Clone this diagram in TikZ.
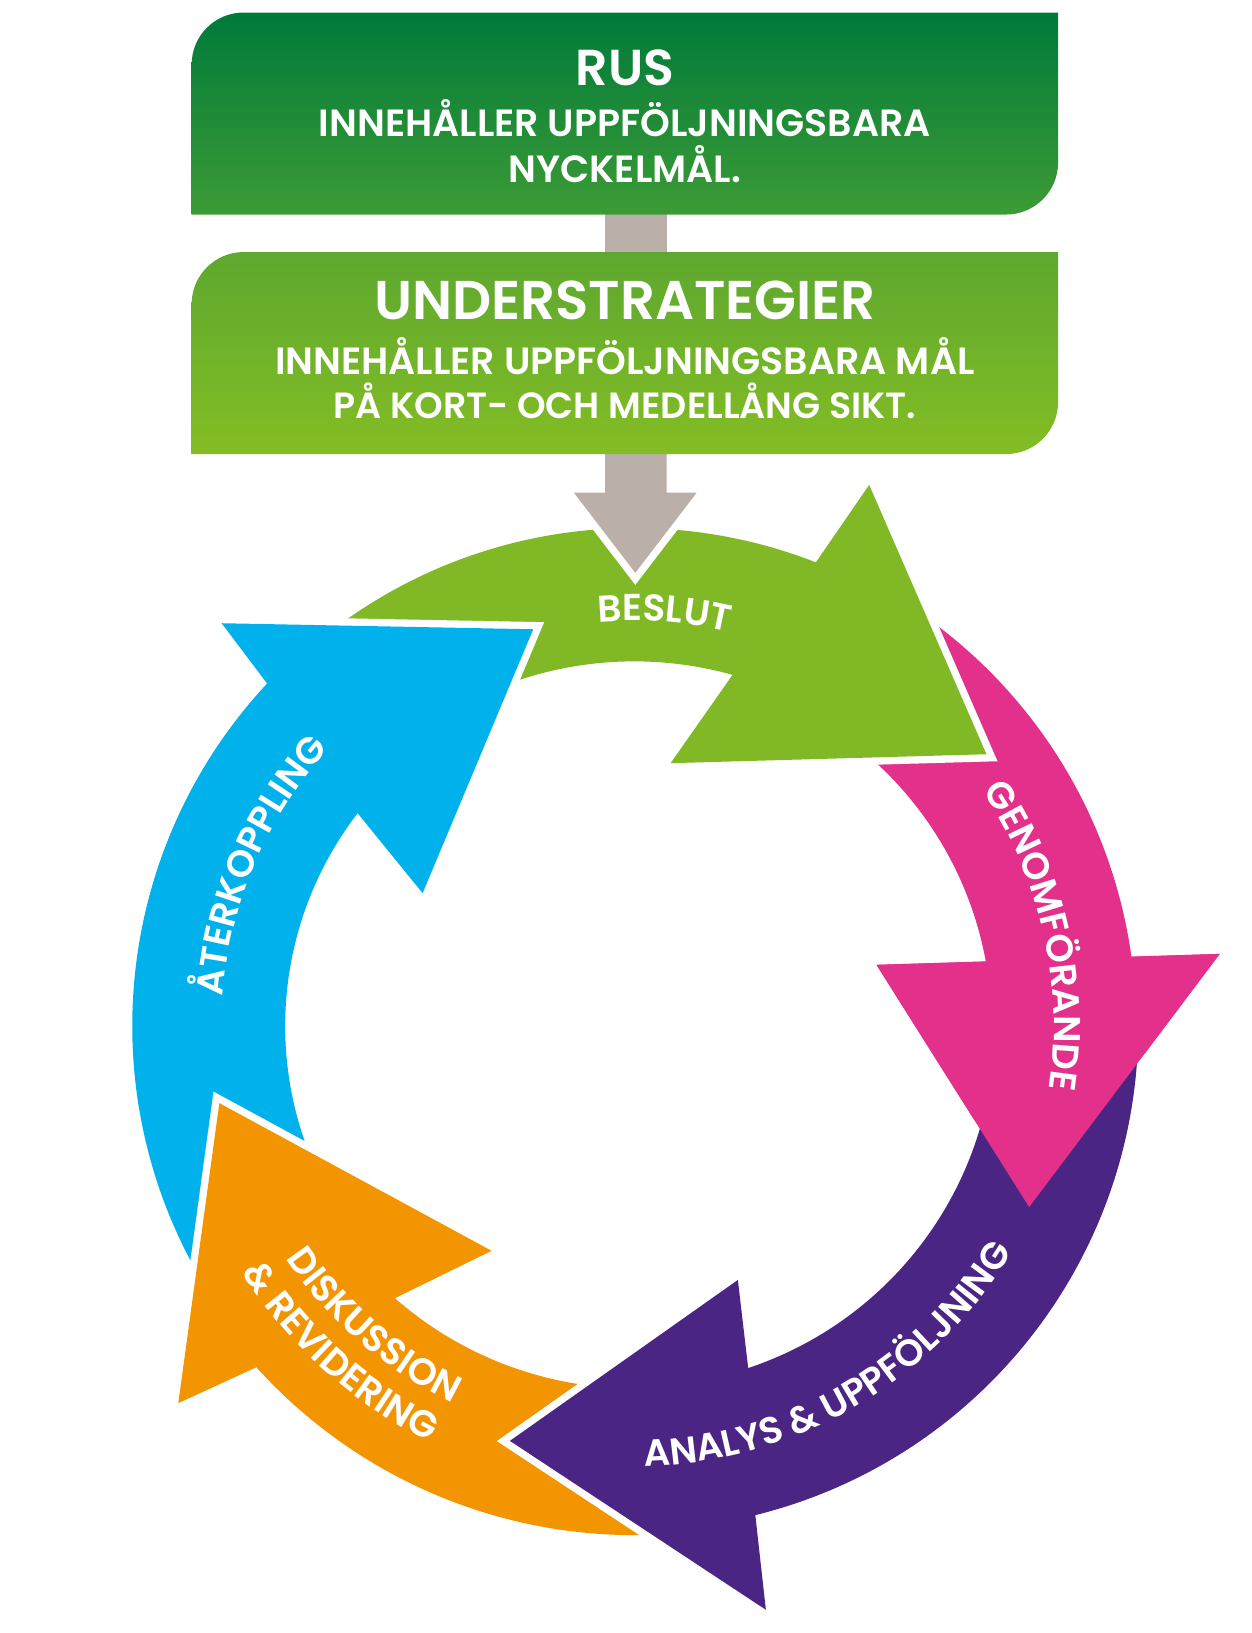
\documentclass[tikz,border=0pt]{standalone}
\usepackage{fontspec}
\setmainfont{Poppins}[BoldFont={* SemiBold}]
\usetikzlibrary{calc,decorations.text}

\definecolor{rusdark}{RGB}{0,122,58}
\definecolor{ruslight}{RGB}{60,155,53}
\definecolor{subdark}{RGB}{93,168,47}
\definecolor{sublight}{RGB}{132,189,36}
\definecolor{beslutgreen}{RGB}{128,185,37}
\definecolor{connectorgray}{RGB}{186,175,169}
\definecolor{feedbackblue}{RGB}{0,177,235}
\definecolor{executionpink}{RGB}{227,49,139}
\definecolor{analysispurple}{RGB}{74,37,131}
\definecolor{revisionorange}{RGB}{243,149,0}

\newcommand\labelfont{\fontsize{10.2}{12}\selectfont\bfseries\color{white}}
% text on an arc round the ring centre: start, end, radius, text
\newcommand\cyclelabel[4]{%
  \path[decorate, decoration={text along path, text align=center, text={|\labelfont|#4}}]
    ($(ring)+(#1:#3)$) arc[start angle=#1, end angle=#2, radius=#3];}

\begin{document}
\begin{tikzpicture}[
    x=0.01cm, y=0.01cm,
    bordered/.style={fill=#1, preaction={draw=white, line width=4pt, line join=miter}},
    headtitle/.style={text=white, font=\fontsize{13.8}{16}\selectfont\bfseries, inner sep=0pt, anchor=base},
    headtext/.style={text=white, font=\fontsize{10.35}{12}\selectfont\bfseries, inner sep=0pt, anchor=base}
]
\useasboundingbox (0,0) rectangle (1202,-1568);
\coordinate (ring) at (609,-985);

% cycle arrows
\fill[executionpink] ($(ring)+(56:482)$) arc[start angle=56, end angle=7.93, radius=482]
  -- (1171.2,-915.9) -- (988.2,-1159) -- (841.6,-926.4) -- (946.6,-923.3)
  arc[start angle=10.36, end angle=52, radius=343] -- cycle;
\path[bordered=beslutgreen] ($(ring)+(127:478)$) arc[start angle=127, end angle=68.6, radius=478]
  -- (834.6,-465.6) -- (947.2,-724.2) -- (643.9,-732.8) -- (703.4,-648)
  arc[start angle=74.35, end angle=113, radius=350] -- cycle;
\path[bordered=feedbackblue] ($(ring)+(210:482)$) arc[start angle=210, end angle=137, radius=482]
  -- (212.8,-598.4) -- (512,-604.2) -- (405.8,-857.6) -- (343.4,-780.8)
  arc[start angle=142.4, end angle=203, radius=335] -- cycle;
\path[bordered=revisionorange] ($(ring)+(276:489)$) arc[start angle=276, end angle=222.1, radius=489]
  -- (171.2,-1347.3) -- (210.6,-1059.2) -- (472,-1201) -- (379.2,-1246.5)
  arc[start angle=228.7, end angle=266, radius=348] -- cycle;
\path[bordered=analysispurple] ($(ring)+(-3:484)$) arc[start angle=-3, end angle=-76.1, radius=484]
  -- (735.4,-1545.7) -- (489.6,-1383.5) -- (708.5,-1229) -- (718.4,-1313.6)
  arc[start angle=-71.6, end angle=-12, radius=346] -- cycle;
\fill[executionpink] (1171.2,-915.9) -- (988.2,-1159) -- (841.6,-926.4) -- cycle;

% gray connectors
\fill[connectorgray] (581,-200) rectangle (640,-250);
\path[bordered=connectorgray] (581,-430) -- (581,-473) -- (551,-473) -- (610,-550)
  -- (669,-473) -- (640,-473) -- (640,-430) -- cycle;

% boxes
\path[top color=rusdark, bottom color=ruslight] (184,-206) -- (184,-62)
  arc[start angle=180, end angle=90, radius=50] -- (1016,-12) -- (1016,-156)
  arc[start angle=0, end angle=-90, radius=50] -- cycle;
\path[top color=subdark, bottom color=sublight] (184,-436) -- (184,-292)
  arc[start angle=180, end angle=90, radius=50] -- (1016,-242) -- (1016,-386)
  arc[start angle=0, end angle=-90, radius=50] -- cycle;

\node[headtitle] (rus_t) at (600,-82) {RUS};
\node[headtext] (rus_a) at (600,-131) {INNEHÅLLER UPPFÖLJNINGSBARA};
\node[headtext] (rus_b) at (600,-175) {NYCKELMÅL.};
\node[headtitle, font=\fontsize{14.9}{17}\selectfont\bfseries] (under_t) at (600,-307) {UNDERSTRATEGIER};
\node[headtext] (under_a) at (600,-360) {INNEHÅLLER UPPFÖLJNINGSBARA MÅL};
\node[headtext, font=\fontsize{9.95}{12}\selectfont\bfseries] (under_b) at (600,-402) {PÅ KORT- OCH MEDELLÅNG SIKT.};

% labels
\cyclelabel{125.8}{45.8}{389}{BESLUT}
\cyclelabel{62.65}{-37.35}{403}{GENOMFÖRANDE}
\cyclelabel{-110}{-9.5}{423}{ANALYS {\&} UPPFÖLJNING}
\cyclelabel{179}{279}{402}{DISKUSSION}
\cyclelabel{178}{278}{445}{{\&} REVIDERING}
\cyclelabel{206.85}{106.85}{396}{ÅTERKOPPLING}

\end{tikzpicture}
\end{document}
